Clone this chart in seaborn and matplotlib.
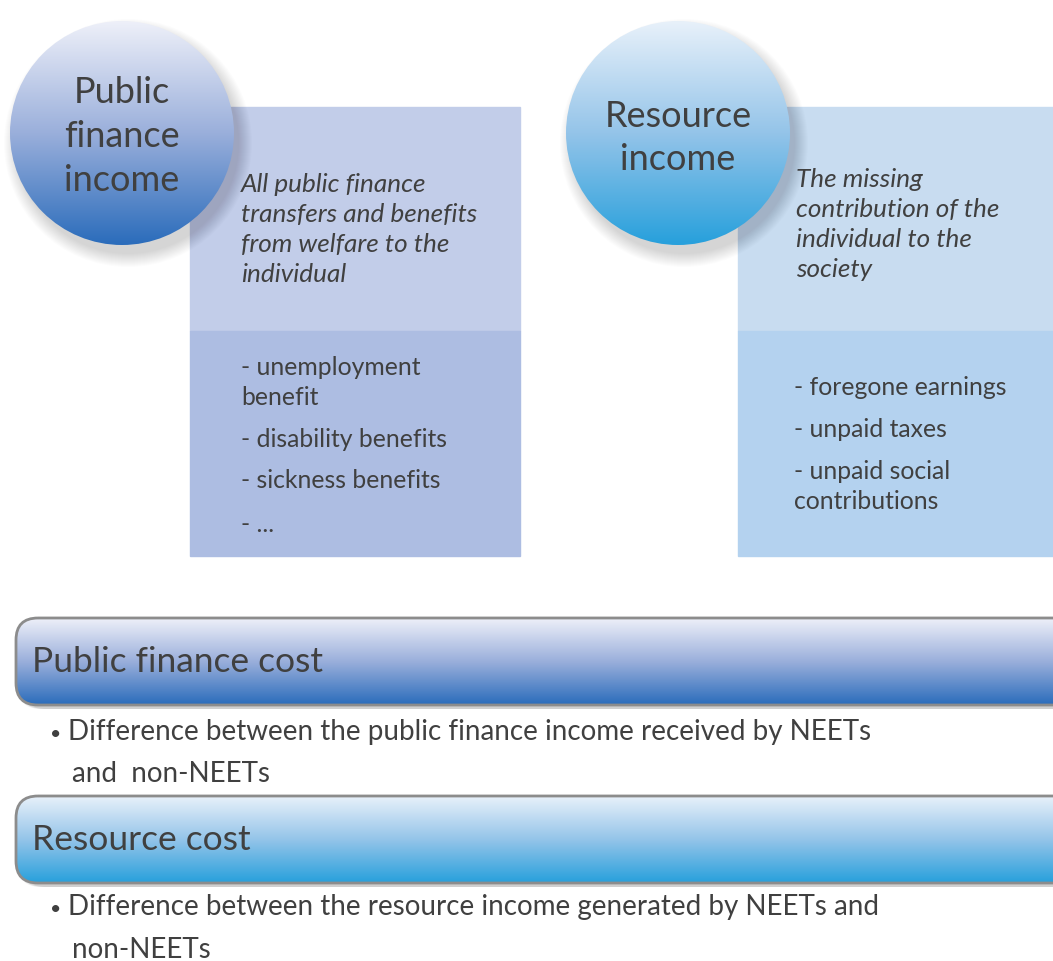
import numpy as np
import matplotlib
matplotlib.use("Agg")
import matplotlib.pyplot as plt
import seaborn as sns
from matplotlib.patches import Circle, Rectangle, FancyBboxPatch
from matplotlib.colors import LinearSegmentedColormap

sns.set_style("white")
plt.rcParams['font.family'] = ['Lato', 'DejaVu Sans']

# text content of the diagram
circle_titles = [["Public", "finance", "income"], ["Resource", "income"]]
descriptions = [
    ["All public finance", "transfers and benefits", "from welfare to the", "individual"],
    ["The missing", "contribution of the", "individual to the", "society"],
]
components = [
    [["- unemployment", "benefit"], ["- disability benefits"], ["- sickness benefits"], ["- ..."]],
    [["- foregone earnings"], ["- unpaid taxes"], ["- unpaid social", "contributions"]],
]
cost_titles = ["Public finance cost", "Resource cost"]
cost_bullets = [
    ["Difference between the public finance income received by NEETs", "and  non-NEETs"],
    ["Difference between the resource income generated by NEETs and", "non-NEETs"],
]

# colours
text_col = "#404040"
grad_cols = [("#eef0f9", "#9aafdb", "#2a6cbb"), ("#e8f1fa", "#94c4e9", "#27a0dc")]
box_top_cols = ["#c2cde9", "#c8dcf0"]
box_bot_cols = ["#adbde2", "#b4d2ef"]

W, H = 1053, 962
fig = plt.figure(figsize=(W / 100, H / 100), dpi=100)
ax = fig.add_axes([0, 0, 1, 1])


def gradient(patch, x0, x1, y0, y1, cols, z):
    cmap = LinearSegmentedColormap.from_list("g", list(cols))
    grad = np.linspace(0, 1, 256).reshape(-1, 1)
    im = ax.imshow(grad, extent=(x0, x1, y1, y0), cmap=cmap, aspect="auto",
                   origin="upper", zorder=z, interpolation="bilinear")
    im.set_clip_path(patch)


# upper panels: circle + description box
circle_c = [(122, 134), (678, 134)]
radius = 112
box_x = [(190, 520), (738, 1053)]
title_base = [[103, 147, 191], [127, 170]]
desc_x = [241, 796]
desc_base = [192, 187]
comp_x = [241, 794]
comp_base = [[375, 447, 488, 532], [395, 437, 479]]

for i in range(2):
    x0, x1 = box_x[i]
    ax.add_patch(Rectangle((x0, 108), x1 - x0, 224, color=box_top_cols[i], zorder=1))
    ax.add_patch(Rectangle((x0, 332), x1 - x0, 225, color=box_bot_cols[i], zorder=1))

    cx, cy = circle_c[i]
    # soft shadow, offset down-right
    for k in range(14):
        ax.add_patch(Circle((cx + 6, cy + 10), radius + 12 - k, color="#000000",
                            alpha=0.011, lw=0, zorder=2))
    circ = Circle((cx, cy), radius, lw=0, facecolor="none", zorder=3)
    ax.add_patch(circ)
    gradient(circ, cx - radius, cx + radius, cy - radius, cy + radius, grad_cols[i], 3)
    for line, yb in zip(circle_titles[i], title_base[i]):
        ax.text(cx, yb, line, ha="center", va="baseline", fontsize=26,
                color=text_col, zorder=5)

    for j, line in enumerate(descriptions[i]):
        ax.text(desc_x[i], desc_base[i] + 30 * j, line, ha="left", va="baseline",
                fontsize=18.8, style="italic", color=text_col, zorder=5)

    for item, yb in zip(components[i], comp_base[i]):
        for j, line in enumerate(item):
            ax.text(comp_x[i], yb + 30 * j, line, ha="left", va="baseline",
                    fontsize=17.8, color=text_col, zorder=5)

# lower bars
bar_y = [619, 797]
bar_h = 87
bar_title_base = [672, 850]
bullet_base = [[740, 782], [915, 958]]
for i in range(2):
    y0 = bar_y[i]
    for k in range(8):
        ax.add_patch(FancyBboxPatch((16 + 2, y0 + 4), 1100, bar_h,
                                    boxstyle="round,pad=0,rounding_size=%d" % (22 + k),
                                    facecolor="#000000", alpha=0.025, lw=0, zorder=2))
    bar = FancyBboxPatch((16, y0), 1100, bar_h, boxstyle="round,pad=0,rounding_size=22",
                         facecolor="none", edgecolor="#8c8c8c", lw=2, zorder=4)
    ax.add_patch(bar)
    gradient(bar, 16, 1116, y0, y0 + bar_h, grad_cols[i], 3)
    ax.text(32, bar_title_base[i], cost_titles[i], ha="left", va="baseline",
            fontsize=25.5, color=text_col, zorder=5)
    ax.text(50, bullet_base[i][0], "\u2022", ha="left", va="baseline",
            fontsize=14, color=text_col, zorder=5)
    for j, line in enumerate(cost_bullets[i]):
        ax.text(68 if j == 0 else 72, bullet_base[i][j], line, ha="left",
                va="baseline", fontsize=20, color=text_col, zorder=5)

ax.set_xlim(0, W)
ax.set_ylim(H, 0)
ax.axis("off")
fig.savefig("out.png", dpi=100, facecolor="white")
